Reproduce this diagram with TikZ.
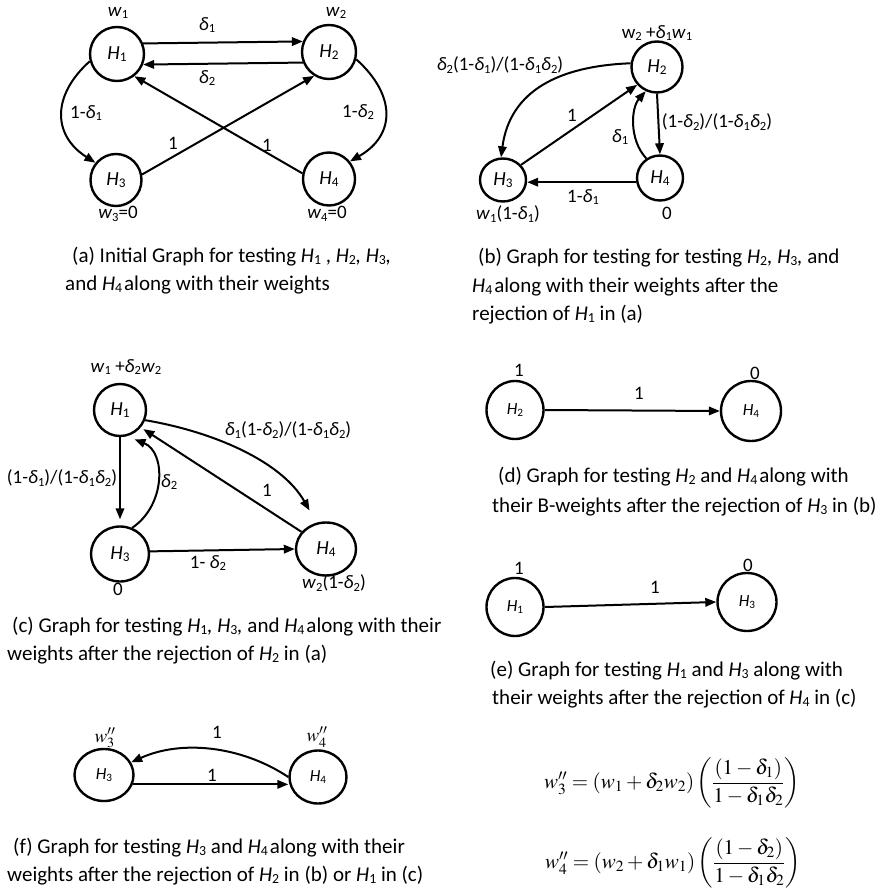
\documentclass[tikz,border=0pt]{standalone}
\usepackage{graphicx}
\usepackage{mathptmx}
\usepackage[no-math]{fontspec}
\setmainfont{Carlito}
\usetikzlibrary{arrows.meta,shapes.geometric}
\newcommand{\sbs}[1]{\raisebox{-0.28ex}{\scalebox{0.66}{#1}}}
\newcommand{\Hy}[1]{\textit{H}\sbs{#1}}
\newcommand{\dl}[1]{\textit{δ}\sbs{#1}}
\newcommand{\wt}[1]{\textit{w}\sbs{#1}}
\begin{document}
\begin{tikzpicture}[x=1pt,y=-1pt,
  hyp/.style 2 args={ellipse, draw, line width=2.4pt, minimum width=#1pt, minimum height=#2pt, inner sep=0pt},
  bignode/.style={font=\fontsize{20}{24}\selectfont},
  smallnode/.style={font=\fontsize{17}{20}\selectfont},
  lbl/.style={font=\fontsize{19}{23}\selectfont, inner sep=0pt},
  capt/.style={font=\fontsize{21}{25}\selectfont, anchor=base west, inner sep=0pt},
  frm/.style={font=\fontsize{21}{25}\selectfont, inner sep=0pt},
  arr/.style={line width=2pt, -{Triangle[length=11pt,width=8.5pt]}}
  ]
\fill[white] (0,0) rectangle (879,896);
\useasboundingbox (0,0) rectangle (879,896);

% ---------------- (a)
\node[hyp={54}{54}, bignode] (A1) at (117,54) {\Hy{1}};
\node[hyp={54}{54}, bignode] (A2) at (329,52) {\Hy{2}};
\node[hyp={51}{52}, bignode] (A3) at (116,180) {\Hy{3}};
\node[hyp={52}{53}, bignode] (A4) at (329,179) {\Hy{4}};
\node[lbl] (wA1) at (118,13) {\wt{1}};
\node[lbl] (wA2) at (336,13) {\wt{2}};
\node[lbl] (dA1) at (207,25) {\dl{1}};
\node[lbl] (dA2) at (207,78) {\dl{2}};
\node[lbl] (oA1) at (86,113) {1-\dl{1}};
\node[lbl] (oA2) at (358,112) {1-\dl{2}};
\node[lbl] (eA3) at (173,143) {1};
\node[lbl] (eA4) at (267,145) {1};
\node[lbl] (wA3) at (118,214) {\wt{3}=0};
\node[lbl] (wA4) at (327,214) {\wt{4}=0};
\draw[arr] (A1.22) -- (A2.158);
\draw[arr] (A2.202) -- (A1.-22);
\draw[arr] (A1.195) .. controls (52,95) and (52,135) .. (A3.140);
\draw[arr] (A2.-15) .. controls (396,95) and (396,135) .. (A4.40);
\draw[arr] (A3.12) -- (A2.238);
\draw[arr] (A4.168) -- (A1.-52);
\node[capt] (capA1) at (72,262) {(a) Initial Graph for testing \Hy{1} , \Hy{2}\textit{,} \Hy{3}\textit{,}};
\node[capt] (capA2) at (65,290) {and \Hy{4}\hspace{2pt}along with their weights};

% ---------------- (b)
\node[hyp={51}{51}, bignode] (B2) at (657,67) {\Hy{2}};
\node[hyp={46}{43}, bignode] (B3) at (503,180) {\Hy{3}};
\node[hyp={46}{45}, bignode] (B4) at (660,178) {\Hy{4}};
\node[lbl] (wB2) at (657,33) {w\sbs{2} +\dl{1}\wt{1}};
\node[lbl] (eB23) at (500,65) {\dl{2}(1-\dl{1})/(1-\dl{1}\dl{2})};
\node[lbl] (eB32) at (572,115) {1};
\node[lbl] (eB42) at (620,137) {\dl{1}};
\node[lbl] (eB24) at (717,122) {(1-\dl{2})/(1-\dl{1}\dl{2})};
\node[lbl] (eB43) at (583,197) {1-\dl{1}};
\node[lbl] (wB3) at (508,214) {\wt{1}(1-\dl{1})};
\node[lbl] (wB4) at (667,213) {0};
\draw[arr] (B2.172) .. controls (560,66) and (510,90) .. (B3.95);
\draw[arr] (B3.40) -- (B2.222);
\draw[arr] (B4.125) .. controls (629,140) and (631,108) .. (B2.245);
\draw[arr] (B2.south) -- (B4.north);
\draw[arr] (B4.190) -- (B4.190 -| B3.east);
\node[capt] (capB1) at (478,263) {(b) Graph for testing for testing \Hy{2}\textit{,} \Hy{3}\textit{,} and};
\node[capt] (capB2) at (472,292) {\Hy{4}\hspace{2pt}along with their weights after the};
\node[capt] (capB3) at (472,320) {rejection of \Hy{1} in (a)};

% ---------------- (c)
\node[hyp={52}{52}, bignode] (C1) at (120,410) {\Hy{1}};
\node[hyp={58}{55}, bignode] (C3) at (120,554) {\Hy{3}};
\node[hyp={60}{53}, bignode] (C4) at (326,549) {\Hy{4}};
\node[lbl] (wC1) at (126,367) {\wt{1} +\dl{2}\wt{2}};
\node[lbl] (eC14) at (288,430) {\dl{1}(1-\dl{2})/(1-\dl{1}\dl{2})};
\node[lbl] (eC13) at (62,478) {(1-\dl{1})/(1-\dl{1}\dl{2})};
\node[lbl] (eC31) at (169,482) {\dl{2}};
\node[lbl] (eC41) at (267,490) {1};
\node[lbl] (eC34) at (208,563) {1- \dl{2}};
\node[lbl] (wC3) at (118,589) {0};
\node[lbl] (wC4) at (334,583) {\wt{2}(1-\dl{2})};
\draw[arr, shorten >=6pt] (C1.south) -- (C3.north);
\draw[arr, shorten >=8pt] (C3.65) .. controls (166,505) and (166,452) .. (C1.-75);
\draw[arr, shorten >=3pt] (C4.145) -- (C1.-40);
\draw[arr, shorten >=14pt] (C1.-22) .. controls (215,432) and (282,462) .. (C4.110);
\draw[arr] (C3.5) -- (C4.west);
\node[capt] (capC1) at (12,632) {(c) Graph for testing \Hy{1}\textit{,} \Hy{3}\textit{,} and \Hy{4}\hspace{2pt}along with their};
\node[capt] (capC2) at (7,660) {weights after the rejection of \Hy{2} in (a)};

% ---------------- (d)
\node[hyp={57}{58}, smallnode] (D2) at (515,410) {\Hy{2}};
\node[hyp={60}{60}, smallnode] (D4) at (751,411) {\Hy{4}};
\node[lbl] (wD2) at (519,370) {1};
\node[lbl] (wD4) at (755,373) {0};
\node[lbl] (eD) at (639,393) {1};
\draw[arr] (D2.east) -- (D4.west);
\node[capt] (capD1) at (498,482) {(d) Graph for testing \Hy{2} and \Hy{4}\hspace{2pt}along with};
\node[capt] (capD2) at (492,512) {their B-weights after the rejection of \Hy{3} in (b)};

% ---------------- (e)
\node[hyp={57}{58}, smallnode] (E1) at (515,607) {\Hy{1}};
\node[hyp={59}{58}, smallnode] (E3) at (747,602) {\Hy{3}};
\node[lbl] (wE1) at (519,568) {1};
\node[lbl] (wE3) at (748,565) {0};
\node[lbl] (eE) at (655,587) {1};
\draw[arr] (E1.east) -- (E3.west);
\node[capt] (capE1) at (490,676) {(e) Graph for testing \Hy{1} and \Hy{3} along with};
\node[capt] (capE2) at (492,704) {their weights after the rejection of \Hy{4} in (c)};

% ---------------- (f)
\node[hyp={59}{52}, smallnode] (F3) at (104,775) {\Hy{3}};
\node[hyp={57}{53}, smallnode] (F4) at (318,777) {\Hy{4}};
\node[lbl] (wF3) at (105,738) {$w_3''$};
\node[lbl] (wF4) at (317,737) {$w_4''$};
\node[lbl] (eF43) at (217,732) {1};
\node[lbl] (eF34) at (212,775) {1};
\draw[arr] (F4.west) .. controls (240,745) and (180,740) .. (F3.25);
\draw[arr] (F3.-18) -- (F3.-18 -| F4.west);
\node[capt] (capF1) at (13,853) {(f) Graph for testing \Hy{3} and \Hy{4}\hspace{2pt}along with their};
\node[capt] (capF2) at (7,881) {weights after the rejection of \Hy{2} in (b) or \Hy{1} in (c)};

% ---------------- formulas
\node[frm] (form1) at (672,783) {$w_3'' = (w_1+\delta_2 w_2)\left(\displaystyle\frac{(1-\delta_1)}{1-\delta_1\delta_2}\right)$};
\node[frm] (form2) at (673,863) {$w_4'' = (w_2+\delta_1 w_1)\left(\displaystyle\frac{(1-\delta_2)}{1-\delta_1\delta_2}\right)$};
\end{tikzpicture}
\end{document}
